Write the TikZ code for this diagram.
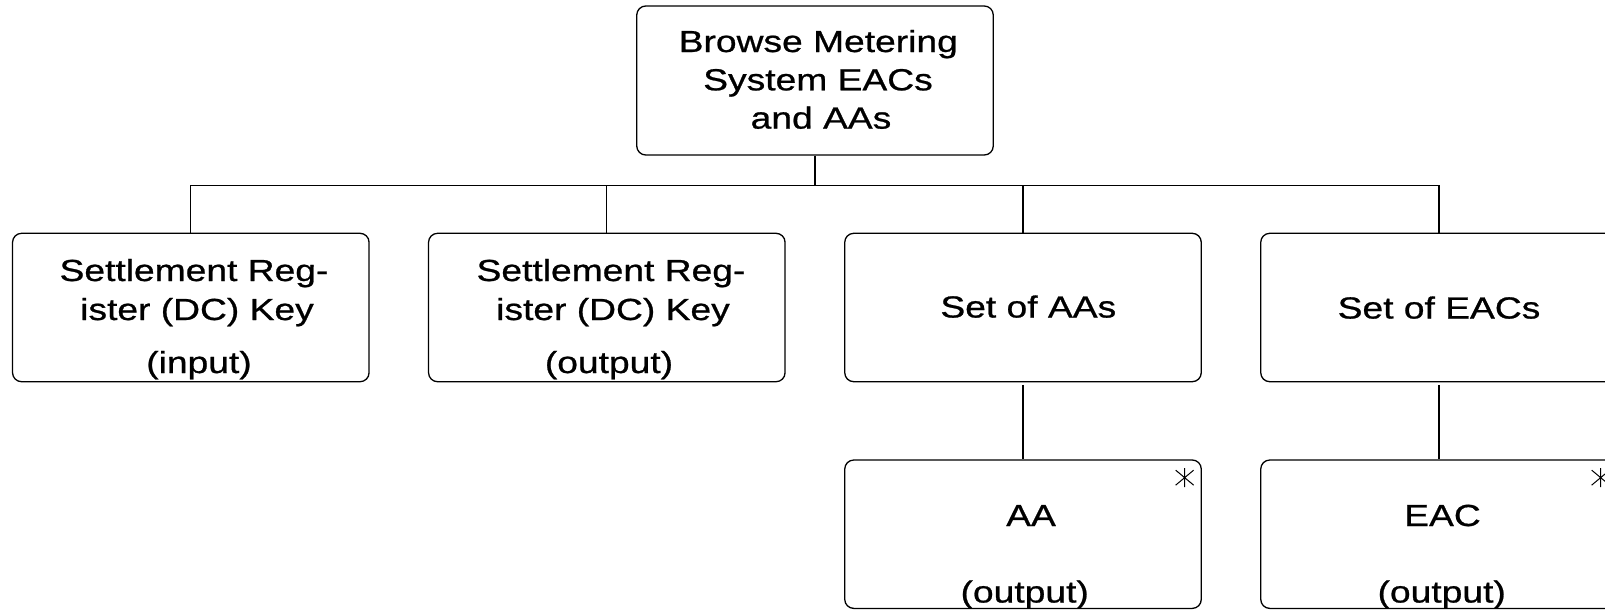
\documentclass[tikz,border=0pt]{standalone}
\usepackage{fontspec}
\newfontfamily\boxfont{Liberation Sans}[FakeStretch=1.22,FakeBold=0.8]
\begin{document}
\begin{tikzpicture}[x=1pt,y=-1pt,
  box/.style={draw, rounded corners=9pt, line width=1.3pt, minimum width=356.5pt, minimum height=148.4pt, inner sep=0pt},
  txt/.style={anchor=base, inner sep=0pt, font=\boxfont\fontsize{30.5}{36}\selectfont},
  conn/.style={line width=1.2pt},
  asteriskmark/.pic={\draw[line width=1pt] (0,-9.5) -- (0,9.5) (-9,-7.5) -- (9,7.5) (-9,7.5) -- (9,-7.5);}]
\useasboundingbox (0,0) rectangle (1605,611);
\clip (0,0) rectangle (1605,611);
% boxes
\node[box, minimum height=149pt] (top) at (815,80.5) {};
\node[box] (b1) at (190.8,307.5) {};
\node[box] (b2) at (606.8,307.5) {};
\node[box] (b3) at (1023,307.5) {};
\node[box] (b4) at (1439,307.5) {};
\node[box] (c3) at (1023,534.2) {};
\node[box] (c4) at (1439,534.2) {};
% texts
\node[txt] (t1) at (818.3,52) {Browse Metering};
\node[txt] (t2) at (818,90.3) {System EACs};
\node[txt] (t3) at (821,128.6) {and AAs};
\node[txt] (b1a) at (194,281) {Settlement Reg-};
\node[txt] (b1b) at (197,320) {ister (DC) Key};
\node[txt] (b1c) at (199,373) {(input)};
\node[txt] (b2a) at (611,281) {Settlement Reg-};
\node[txt] (b2b) at (613,320) {ister (DC) Key};
\node[txt] (b2c) at (609,373) {(output)};
\node[txt] (b3a) at (1028.3,317.5) {Set of AAs};
\node[txt] (b4a) at (1439,318.5) {Set of EACs};
\node[txt] (c3a) at (1031,526) {AA};
\node[txt] (c3b) at (1024.7,602.5) {(output)};
\node[txt] (c4a) at (1442.5,526) {EAC};
\node[txt] (c4b) at (1441.7,602.5) {(output)};
% asterisks
\pic at ([xshift=-17.25pt,yshift=-18.3pt]c3.north east) {asteriskmark};
\pic at ([xshift=-17.25pt,yshift=-18.3pt]c4.north east) {asteriskmark};
% connectors
\coordinate (bus) at (0,185.5);
\draw[conn] (top.south) -- (top.south |- bus);
\draw[conn] (b1.north) -- (b1.north |- bus) -- (b4.north |- bus) -- (b4.north);
\draw[conn] (b2.north) -- (b2.north |- bus);
\draw[conn] (b3.north) -- (b3.north |- bus);
\draw[conn] ([yshift=-2.5pt]b3.south) -- (c3.north);
\draw[conn] ([yshift=-2.5pt]b4.south) -- (c4.north);
\end{tikzpicture}
\end{document}
